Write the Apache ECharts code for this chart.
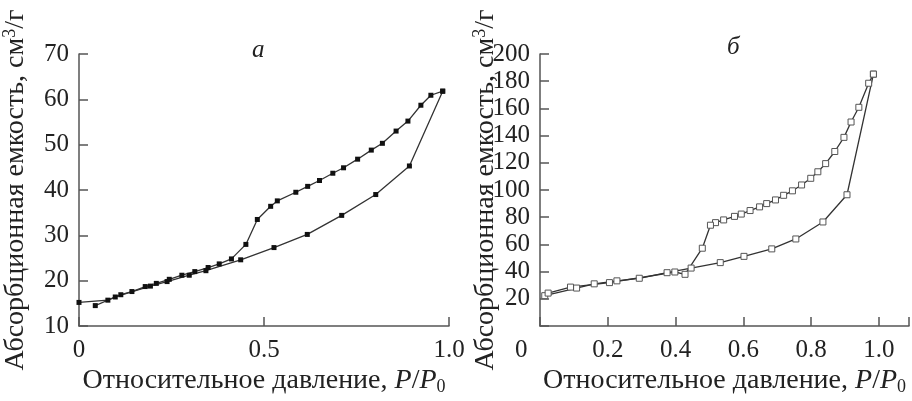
<!DOCTYPE html>
<html>
<head>
<meta charset="utf-8">
<script src="https://cdn.jsdelivr.net/npm/echarts@6/dist/echarts.min.js"></script>
<style>
  html, body { margin: 0; padding: 0; background: #fff; }
  #chart { width: 912px; height: 401px; }
</style>
</head>
<body>
<div id="chart"></div>
<script>
// panel a: adsorption / desorption branches
const aAdsX = [0.044, 0.098, 0.193, 0.238, 0.298, 0.343, 0.437, 0.527, 0.617, 0.710, 0.802, 0.893, 0.983];
const aAdsY = [14.5, 16.4, 18.8, 19.8, 21.2, 22.2, 24.6, 27.3, 30.2, 34.4, 39.0, 45.3, 61.8];
const aDesX = [0.983, 0.951, 0.924, 0.889, 0.857, 0.820, 0.790, 0.753, 0.715, 0.686, 0.650, 0.618, 0.586,
  0.536, 0.518, 0.482, 0.451, 0.412, 0.379, 0.349, 0.313, 0.278, 0.244, 0.209, 0.179, 0.143, 0.113, 0.078, 0.0];
const aDesY = [61.8, 60.9, 58.7, 55.2, 53.0, 50.3, 48.8, 46.8, 44.9, 43.7, 42.1, 40.8, 39.5,
  37.6, 36.4, 33.5, 28.0, 24.8, 23.7, 22.9, 22.0, 21.2, 20.3, 19.4, 18.7, 17.6, 16.9, 15.7, 15.2];

// panel б
const bAdsX = [0.014, 0.108, 0.160, 0.227, 0.293, 0.375, 0.446, 0.532, 0.602, 0.684, 0.755, 0.835, 0.906, 0.984];
const bAdsY = [22.3, 27.9, 31.0, 33.2, 35.1, 39.2, 42.6, 46.6, 51.2, 56.7, 64.0, 76.5, 96.5, 185.2];
const bDesX = [0.984, 0.970, 0.941, 0.918, 0.897, 0.870, 0.843, 0.820, 0.799, 0.772, 0.745, 0.719, 0.695,
  0.669, 0.648, 0.620, 0.594, 0.574, 0.542, 0.518, 0.503, 0.479, 0.428, 0.398, 0.205, 0.090, 0.024];
const bDesY = [185.2, 178.5, 160.8, 150.0, 138.7, 128.3, 119.4, 113.4, 108.6, 103.7, 99.4, 96.1, 92.7,
  90.0, 87.6, 84.9, 82.3, 80.6, 78.0, 76.0, 74.1, 57.2, 38.0, 39.7, 31.9, 28.6, 24.2];

const FONT = '"Liberation Serif", "Times New Roman", serif';
const TXT = '#222';
const AX = '#555';

const pairs = (xs, ys) => xs.map((x, i) => [x, ys[i]]);

const rich = {
  n: { fontFamily: FONT, fontSize: 28, color: TXT },
  i: { fontFamily: FONT, fontSize: 28, color: TXT, fontStyle: 'italic' },
  sub: { fontFamily: FONT, fontSize: 18, color: TXT, padding: [12, 0, 0, 0] },
  sup: { fontFamily: FONT, fontSize: 18, color: TXT, padding: [0, 0, 12, 0] }
};
const xName = '{n|Относительное давление, }{i|P}{n|/}{i|P}{sub|0}';
const yName = '{n|Абсорбционная емкость, см}{sup|3}{n|/г}';

function axisBase() {
  return {
    type: 'value',
    axisLine: { show: true, lineStyle: { color: AX, width: 1.5 } },
    axisTick: { show: true, inside: true, length: 9, lineStyle: { color: AX, width: 1.5 } },
    splitLine: { show: false },
    axisLabel: { color: TXT, fontFamily: FONT, fontSize: 25, margin: 12 },
    nameLocation: 'middle',
    nameMoveOverlap: false,
    nameTextStyle: { rich }
  };
}

function lineSeries(xi, data, hollow) {
  return {
    type: 'line',
    xAxisIndex: xi,
    yAxisIndex: xi,
    data,
    symbol: 'rect',
    symbolSize: hollow ? 6 : 5,
    showSymbol: true,
    lineStyle: { color: '#333', width: 1.3 },
    itemStyle: hollow
      ? { color: '#fff', borderColor: '#555', borderWidth: 1 }
      : { color: '#111', borderColor: '#111', borderWidth: 0 },
    animation: false,
    z: 3
  };
}

const chart = echarts.init(document.getElementById('chart'));
chart.setOption({
  backgroundColor: '#fff',
  animation: false,
  grid: [
    { left: 77, top: 54, width: 372, height: 276 },
    { left: 540, top: 54, width: 372, height: 276 }
  ],
  xAxis: [
    Object.assign(axisBase(), {
      gridIndex: 0, min: 0, max: 1, interval: 0.5,
      name: xName, nameGap: 40,
      axisLabel: Object.assign(axisBase().axisLabel, {
        formatter: (v) => (v === 0 ? '0' : v.toFixed(1))
      })
    }),
    Object.assign(axisBase(), {
      gridIndex: 1, min: 0, max: 1.089, interval: 0.2,
      name: xName, nameGap: 40,
      axisLabel: Object.assign(axisBase().axisLabel, {
        formatter: (v) => (v === 0 || v > 1.01 ? '' : v.toFixed(1))
      })
    })
  ],
  yAxis: [
    Object.assign(axisBase(), {
      gridIndex: 0, min: 10, max: 70, interval: 10,
      name: yName, nameGap: 48, nameRotate: 90,
      axisLabel: Object.assign(axisBase().axisLabel, { margin: 10 })
    }),
    Object.assign(axisBase(), {
      gridIndex: 1, min: 0, max: 200, interval: 20,
      name: yName, nameGap: 39, nameRotate: 90,
      axisLabel: Object.assign(axisBase().axisLabel, {
        margin: 10,
        formatter: (v) => (v === 0 ? '' : String(v))
      })
    })
  ],
  graphic: [
    { type: 'text', left: 252, top: 38, style: { text: 'а', font: 'italic 25px ' + FONT, fill: TXT } },
    { type: 'text', left: 727, top: 35, style: { text: 'б', font: 'italic 25px ' + FONT, fill: TXT } },
    { type: 'text', left: 515, top: 338, style: { text: '0', font: '25px ' + FONT, fill: TXT } }
  ],
  series: [
    lineSeries(0, pairs(aAdsX, aAdsY), false),
    lineSeries(0, pairs(aDesX, aDesY), false),
    lineSeries(1, pairs(bAdsX, bAdsY), true),
    lineSeries(1, pairs(bDesX, bDesY), true)
  ]
});
</script>
</body>
</html>
